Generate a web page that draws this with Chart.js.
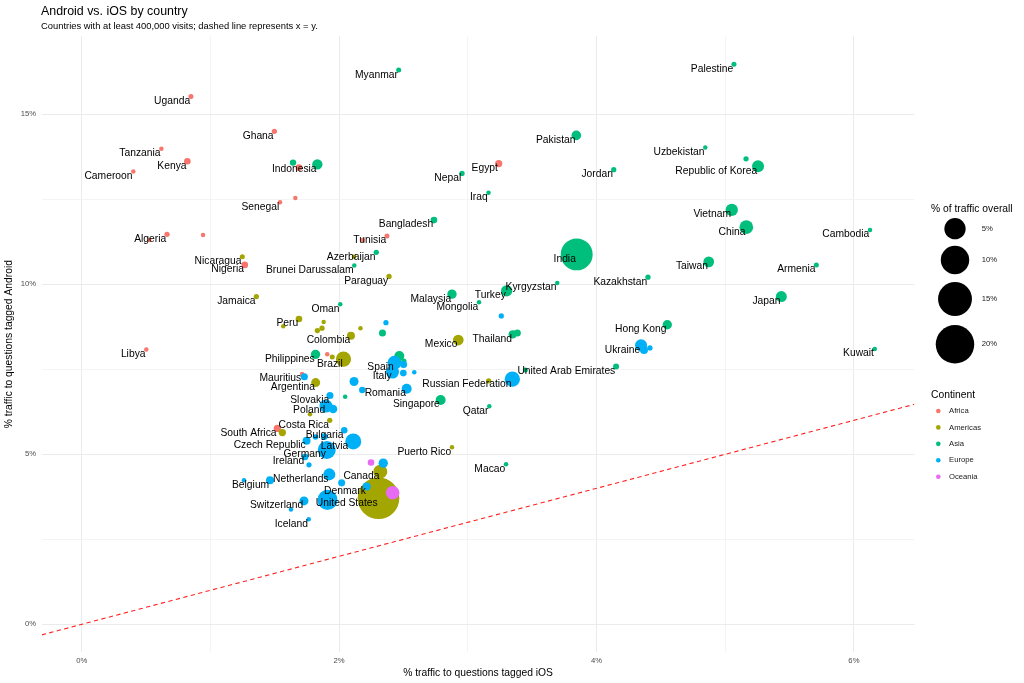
<!DOCTYPE html>
<html>
<head>
<meta charset="utf-8">
<script src="https://cdn.jsdelivr.net/npm/chart.js@4.4.1/dist/chart.umd.min.js"></script>
<style>
html,body{margin:0;padding:0;background:#ffffff;}
#wrap{width:1024px;height:683px;}
</style>
</head>
<body>
<div id="wrap"><canvas id="c" width="1024" height="683"></canvas></div>
<script>
// ---------------- DATA ----------------
const continents = ['Africa', 'Americas', 'Asia', 'Europe', 'Oceania'];

const africaNames = ['Uganda','Ghana','Tanzania','Kenya','Cameroon','','Egypt','Senegal','','Tunisia','','Algeria','','','Nigeria','Libya','','Mauritius','South Africa'];
const africaIOS = [0.849,1.497,0.619,0.821,0.401,1.688,3.240,1.541,1.660,2.372,2.183,0.663,0.525,0.943,1.267,0.502,1.908,1.712,1.520];
const africaAndroid = [15.52,14.50,13.99,13.62,13.32,13.43,13.55,12.41,12.54,11.42,11.30,11.47,11.30,11.45,10.57,8.08,7.94,7.36,5.76];
const africaTraffic = [0.155,0.16,0.15,0.23,0.15,0.23,0.28,0.15,0.15,0.155,0.15,0.16,0.15,0.15,0.23,0.15,0.15,0.15,0.28];

const americasNames = ['Nicaragua','','Paraguay','Jamaica','Peru','','','','','','Colombia','Brazil','','Argentina','','Costa Rica','','Mexico','','Puerto Rico','Canada','United States'];
const americasIOS = [1.248,2.116,2.388,1.357,1.688,1.566,1.880,1.867,1.831,2.166,2.092,2.034,1.947,1.818,1.774,1.927,1.559,2.926,3.162,2.877,2.320,2.306];
const americasAndroid = [10.81,10.81,10.23,9.64,8.98,8.77,8.89,8.71,8.64,8.71,8.49,7.80,7.86,7.11,6.18,6.00,5.64,8.36,7.16,5.21,4.49,3.71];
const americasTraffic = [0.155,0.15,0.16,0.16,0.23,0.15,0.15,0.16,0.16,0.15,0.36,2.1,0.155,0.5,0.15,0.16,0.28,0.81,0.16,0.15,1.7,23.9];

const asiaNames = ['Myanmar','Palestine','Pakistan','Uzbekistan','','Republic of Korea','Jordan','Indonesia','','Nepal','Iraq','Vietnam','China','Cambodia','Bangladesh','India','Azerbaijan','Brunei Darussalam','Taiwan','Armenia','Kazakhstan','Kyrgyzstan','Turkey','Malaysia','Japan','Mongolia','Oman','','Thailand','','Philippines','','','Hong Kong','','United Arab Emirates','Kuwait','Singapore','','Qatar','Macao'];
const asiaIOS = [2.463,5.068,3.843,4.845,5.162,5.255,4.134,1.831,1.642,2.955,3.161,5.051,5.164,6.125,2.737,3.846,2.289,2.118,4.872,5.708,4.400,3.695,3.302,2.877,5.436,3.087,2.009,2.337,3.349,3.385,1.817,2.468,2.503,4.550,3.447,4.152,6.162,2.789,2.047,3.167,3.297];
const asiaAndroid = [16.30,16.47,14.38,14.02,13.69,13.47,13.37,13.53,13.58,13.26,12.69,12.19,11.68,11.60,11.89,10.88,10.94,10.55,10.66,10.57,10.21,10.04,9.81,9.71,9.64,9.47,9.41,8.57,8.53,8.57,7.94,7.89,7.74,8.81,7.48,7.58,8.10,6.60,6.69,6.41,4.71];
const asiaTraffic = [0.155,0.155,0.61,0.15,0.16,1.12,0.16,0.73,0.21,0.16,0.15,1.2,1.6,0.15,0.23,13.1,0.16,0.15,0.81,0.155,0.16,0.15,0.94,0.55,0.88,0.15,0.15,0.26,0.4,0.26,0.55,0.67,0.16,0.55,0.155,0.19,0.15,0.67,0.15,0.15,0.15];

const europeNames = ['','','Spain','Italy','','','','','','','Romania','Russian Federation','Slovakia','Poland','','Bulgaria','','','Czech Republic','Latvia','','Germany','Ireland','','','Netherlands','','Belgium','','Denmark','','Switzerland','','Iceland','Ukraine','',''];
const europeIOS = [2.364,3.260,2.430,2.415,2.501,2.499,2.584,1.730,2.116,2.180,2.525,3.346,1.929,1.898,1.953,2.040,1.817,1.885,1.747,2.077,2.110,1.904,1.735,1.766,2.343,1.924,2.020,1.463,1.261,2.214,1.910,1.727,1.626,1.764,4.346,4.369,4.415];
const europeAndroid = [8.87,9.07,7.69,7.42,7.64,7.39,7.41,7.28,7.14,6.89,6.93,7.21,6.73,6.42,6.33,5.71,5.51,5.52,5.40,5.36,5.38,5.13,4.92,4.69,4.74,4.41,4.16,4.24,4.24,4.05,3.66,3.63,3.38,3.09,8.21,8.07,8.13];
const europeTraffic = [0.16,0.16,1.7,1.39,0.26,0.23,0.15,0.26,0.5,0.21,0.67,2.15,0.26,1.39,0.43,0.22,0.17,0.22,0.36,0.16,2.42,3.28,0.23,0.16,0.55,1.12,0.26,0.36,0.15,0.36,4.28,0.5,0.15,0.15,1.12,0.36,0.16];

const oceaniaNames = ['',''];
const oceaniaIOS = [2.248,2.416];
const oceaniaAndroid = [4.76,3.87];
const oceaniaTraffic = [0.23,1.6];

const sizeBreaks = [5, 10, 15, 20];
const xTickValues = [0, 1, 2, 3, 4, 5, 6];
const yTickValues = [0, 2.5, 5, 7.5, 10, 12.5, 15];

// ---------------- STYLE ----------------
const FONT = '"Liberation Sans", Arial, Helvetica, sans-serif';
const continentColors = ['#F8766D', '#A3A500', '#00BF7D', '#00B0F6', '#E76BF3'];
const groups = [
  {names: africaNames, ios: africaIOS, android: africaAndroid, traffic: africaTraffic},
  {names: americasNames, ios: americasIOS, android: americasAndroid, traffic: americasTraffic},
  {names: asiaNames, ios: asiaIOS, android: asiaAndroid, traffic: asiaTraffic},
  {names: europeNames, ios: europeIOS, android: europeAndroid, traffic: europeTraffic},
  {names: oceaniaNames, ios: oceaniaIOS, android: oceaniaAndroid, traffic: oceaniaTraffic}
];
function radiusFor(p) {
  return (4.5 + 7.63 * Math.sqrt(Math.max(0, p - 0.15))) / 2;
}

const datasets = groups.map((g, k) => ({
  label: continents[k],
  data: g.ios.map((x, i) => ({x: x, y: g.android[i]})),
  backgroundColor: continentColors[k],
  borderWidth: 0,
  pointRadius: ctx => radiusFor(g.traffic[ctx.dataIndex]),
  pointHoverRadius: ctx => radiusFor(g.traffic[ctx.dataIndex]),
  order: continents.length - 1 - k
}));

const refLinePlugin = {
  id: 'refLine',
  beforeDatasetsDraw(chart) {
    const {ctx, chartArea, scales: {x, y}} = chart;
    const a = Math.max(x.min, y.min), b = Math.min(x.max, y.max);
    ctx.save();
    ctx.beginPath();
    ctx.rect(chartArea.left, chartArea.top, chartArea.right - chartArea.left, chartArea.bottom - chartArea.top);
    ctx.clip();
    ctx.strokeStyle = '#FF2020';
    ctx.lineWidth = 1.1;
    ctx.setLineDash([4.3, 3.4]);
    ctx.beginPath();
    ctx.moveTo(x.getPixelForValue(a), y.getPixelForValue(a));
    ctx.lineTo(x.getPixelForValue(b), y.getPixelForValue(b));
    ctx.stroke();
    ctx.restore();
  }
};

const labelPlugin = {
  id: 'pointLabels',
  afterDatasetsDraw(chart) {
    const ctx = chart.ctx;
    ctx.save();
    ctx.font = '10.3px ' + FONT;
    ctx.fillStyle = '#000000';
    ctx.textAlign = 'right';
    ctx.textBaseline = 'alphabetic';
    groups.forEach((g, k) => {
      const meta = chart.getDatasetMeta(k);
      meta.data.forEach((el, i) => {
        const name = g.names[i];
        if (name) ctx.fillText(name, el.x - 0.8, el.y + 7.4);
      });
    });
    ctx.restore();
  }
};

const decorPlugin = {
  id: 'decor',
  afterDraw(chart) {
    const ctx = chart.ctx;
    ctx.save();
    ctx.fillStyle = '#000000';
    ctx.textAlign = 'left';
    ctx.textBaseline = 'alphabetic';
    ctx.font = '12.4px ' + FONT;
    ctx.fillText('Android vs. iOS by country', 41, 15);
    ctx.font = '9.4px ' + FONT;
    ctx.fillText('Countries with at least 400,000 visits; dashed line represents x = y.', 41, 29.3);

    // size legend
    ctx.font = '10.3px ' + FONT;
    ctx.fillText('% of traffic overall', 931, 212.3);
    const sizeY = [228.7, 260, 299, 344.3];
    sizeBreaks.forEach((b, i) => {
      ctx.fillStyle = '#000000';
      ctx.beginPath();
      ctx.arc(955, sizeY[i], radiusFor(b), 0, Math.PI * 2);
      ctx.fill();
      ctx.fillStyle = '#1a1a1a';
      ctx.font = '7.7px ' + FONT;
      ctx.textBaseline = 'middle';
      ctx.fillText(b + '%', 981.7, sizeY[i]);
      ctx.textBaseline = 'alphabetic';
    });

    // colour legend
    ctx.fillStyle = '#000000';
    ctx.font = '10.3px ' + FONT;
    ctx.fillText('Continent', 931, 398.3);
    continents.forEach((c, i) => {
      const yy = 411 + 16.42 * i;
      ctx.fillStyle = continentColors[i];
      ctx.beginPath();
      ctx.arc(938.3, yy, 2.3, 0, Math.PI * 2);
      ctx.fill();
      ctx.fillStyle = '#1a1a1a';
      ctx.font = '7.7px ' + FONT;
      ctx.textBaseline = 'middle';
      ctx.fillText(c, 949, yy);
      ctx.textBaseline = 'alphabetic';
    });
    ctx.restore();
  }
};

const tickFont = {family: FONT, size: 7.7};
const titleFont = {family: FONT, size: 10.3};

new Chart(document.getElementById('c'), {
  type: 'scatter',
  data: {datasets: datasets},
  options: {
    responsive: false,
    animation: false,
    events: [],
    layout: {padding: {left: 0, top: 36.1, right: 109.6, bottom: 0}},
    plugins: {
      legend: {display: false},
      tooltip: {enabled: false},
      title: {display: false}
    },
    scales: {
      x: {
        type: 'linear',
        min: -0.31,
        max: 6.47,
        afterBuildTicks: s => { s.ticks = xTickValues.map(v => ({value: v})); },
        afterFit: s => { s.height = 30.8; },
        border: {display: false},
        grid: {
          drawTicks: false,
          lineWidth: 1,
          color: c => (c.tick && c.tick.value % 2 === 0) ? '#ebebeb' : '#f4f4f4'
        },
        ticks: {
          autoSkip: false,
          maxRotation: 0,
          padding: 4.5,
          font: tickFont,
          color: '#4d4d4d',
          callback: v => (v % 2 === 0 ? v + '%' : '')
        },
        title: {
          display: true,
          text: '% traffic to questions tagged iOS',
          font: titleFont,
          color: '#000000',
          padding: {top: 0, bottom: 4.1}
        }
      },
      y: {
        type: 'linear',
        min: -0.82,
        max: 17.3,
        afterBuildTicks: s => { s.ticks = yTickValues.map(v => ({value: v})); },
        afterFit: s => { s.width = 41.8; },
        border: {display: false},
        grid: {
          drawTicks: false,
          lineWidth: 1,
          color: c => (c.tick && c.tick.value % 5 === 0) ? '#ebebeb' : '#f4f4f4'
        },
        ticks: {
          autoSkip: false,
          padding: 5.6,
          font: tickFont,
          color: '#4d4d4d',
          callback: v => (v % 5 === 0 ? v + '%' : '')
        },
        title: {
          display: true,
          text: '% traffic to questions tagged Android',
          font: titleFont,
          color: '#000000',
          padding: {top: 3.3, bottom: 0}
        }
      }
    }
  },
  plugins: [refLinePlugin, labelPlugin, decorPlugin]
});
</script>
</body>
</html>
